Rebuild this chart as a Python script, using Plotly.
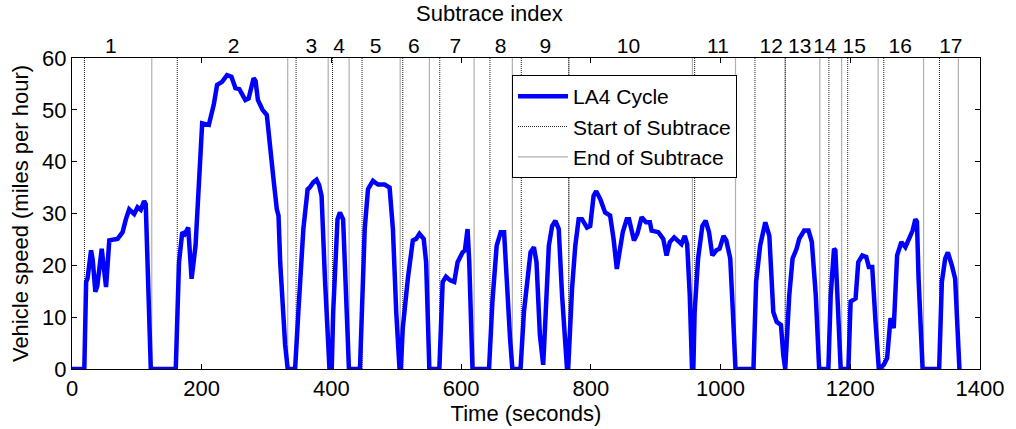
import plotly.graph_objects as go

# LA4 cycle speed trace (seconds, mph)
time_s = [0, 19, 21.8, 24, 29.4, 32, 36, 39, 45.8, 49, 52.5, 57.5, 60.6, 65, 70.3, 74, 78, 83.1, 88.2,
          95.9, 101, 106, 111.2, 113.7, 116.3, 121.5, 160, 165, 170, 173.7, 179.2, 184.4, 190.5, 195.6,
          200.7, 211, 218.6, 223.7, 231.4, 239, 245.8, 252, 258, 267.3, 272.3, 280, 283, 286.6, 293.8,
          300.4, 308, 310.7, 315.8, 318.4, 321, 328.6, 332.6, 344, 349, 356.7, 363.3, 366.4, 372, 377,
          381, 384.8, 390, 395, 397, 400.5, 402.7, 409.4, 413, 418, 425.7, 427, 444, 451.3, 456.4, 464,
          471.8, 482, 489.7, 494.8, 499.9, 505, 507, 510, 517.8, 525.5, 530.5, 535.7, 542.3, 546, 551,
          566.4, 571.5, 576.6, 583.3, 589.4, 594.5, 602.2, 605.8, 609.9, 612.5, 617.5, 643, 648.2, 654.8,
          661, 666.2, 670.2, 675.4, 679, 691.6, 696.8, 702, 707, 712.2, 716.2, 721.4, 726.5, 730, 735.2,
          740.3, 745.3, 750.5, 755.6, 763.3, 765, 771, 776, 781.2, 786.3, 794, 799, 804.2, 808.2, 814.4,
          822, 829.7, 835, 840, 844, 849.2, 855.3, 858.9, 866.5, 871.7, 878.3, 885, 891, 893.7, 904,
          911.6, 916.7, 921.8, 928.5, 934.6, 939.7, 944.8, 948.5, 952.5, 956, 958, 960, 965.3, 971.9,
          977, 982.2, 987.3, 993.4, 998.5, 1004.6, 1008.8, 1014.9, 1019, 1023, 1050.7, 1054.8, 1061,
          1069, 1075.2, 1079.3, 1081.3, 1086.5, 1093.1, 1096.7, 1099.7, 1105.9, 1111, 1117.2, 1121.2,
          1128.9, 1135.6, 1140.7, 1146.8, 1152, 1166.2, 1169.8, 1174.9, 1177, 1181, 1185.2, 1197,
          1200.5, 1208.2, 1212.3, 1218.5, 1224.6, 1228.6, 1233.8, 1238.9, 1244, 1251.6, 1256.8, 1262,
          1267, 1272.2, 1278.8, 1285, 1290, 1296.1, 1300.3, 1302.8, 1305.3, 1311.5, 1337, 1341.2,
          1346.3, 1350.4, 1356.6, 1361.7, 1368.3, 1369]
speed_mph = [0, 0, 16.8, 17.5, 22.9, 21, 14.9, 16, 23.2, 20, 15.8, 24.8, 24.8, 25, 25.1, 25.6, 26.4, 28.9,
             30.8, 29.9, 31.2, 30.7, 32.4, 31.8, 21.9, 0, 0, 20.6, 26.4, 26, 27.3, 17.4, 23.8, 36.6,
             47.4, 47.1, 51, 54.8, 55.4, 56.7, 56.4, 54.2, 54, 51.9, 52.2, 56.1, 55.6, 51.9, 50,
             49, 41, 36.6, 30.8, 29.6, 20.6, 4.7, 0, 0, 11, 27, 34.7, 35, 36, 36.5,
             35.5, 33.4, 17.4, 2, 0, 0, 11, 28.9, 30.2, 28.9, 0.8, 0, 0, 27, 34.7, 36.3,
             35.6, 35.6, 35, 27, 11, 0, 0, 7.9, 17.4, 24.8, 25.1, 26.1, 25.1, 20.6, 0,
             0, 16.8, 17.8, 17.1, 16.8, 20.6, 22.5, 22.9, 27, 20.6, 0, 0, 13, 23.8,
             26.4, 26.4, 16.1, 5.9, 0, 0, 11, 16.5, 22.5, 23.5, 20.6, 6.6, 0.8, 9.8, 23.8,
             27.6, 28.6, 27, 14.2, 0, 0, 15.5, 23.8, 28.9, 28.9, 27.3, 27.6, 33.4, 34.3, 32.8,
             30.2, 29.6, 25.1, 19.3, 22.5, 26.4, 28.9, 28.9, 24.8, 26.1, 29.3, 28.3, 28.3, 26.7, 26.4,
             25.1, 21.9, 24.5, 25.4, 24.8, 24.1, 25.7, 24.1, 14.2, 0, 0, 11, 21.3, 27.6,
             28.6, 26.4, 21.9, 22.9, 23.2, 25.7, 24.8, 21.3, 11, 0, 0, 16.8, 23.8,
             28.3, 25.7, 17.4, 11, 9.1, 8.5, 2.7, 0, 14.2, 21.3, 23.2, 25.1,
             26.7, 26.7, 24.5, 14.2, 0, 0, 14.2, 23.2, 22.9, 11, 0, 0,
             13, 13.6, 20.6, 21.9, 21.6, 19.7, 19.7, 9.1, 0, 0.8, 2.1, 9.8,
             7.9, 21.9, 24.5, 23.5, 25.1, 26.7, 28.9, 28.4, 17.4, 0, 0, 16.8,
             21.3, 22.5, 20, 17.4, 0, 0]

# Subtrace boundaries (seconds)
subtrace_start = [19.2, 162.3, 345.5, 401.6, 447.2, 510, 567, 644.4, 692.7, 766, 960, 1053,
                  1099.7, 1167, 1196, 1251.6, 1337.5]
subtrace_end = [123, 332.6, 395, 427.3, 506, 551, 620, 679, 766, 956.6, 1023, 1099.7, 1153,
                1186.6, 1243, 1313, 1366.7]

# Top-axis subtrace index labels and their positions (seconds)
index_labels = [str(i) for i in range(1, 18)]
index_pos = [60, 249, 369, 412, 468, 527, 591, 661, 730, 858, 996, 1078, 1122, 1161, 1206,
             1277, 1355]

x_ticks = [0, 200, 400, 600, 800, 1000, 1200, 1400]
y_ticks = [0, 10, 20, 30, 40, 50, 60]


def vlines(positions):
    xs, ys = [], []
    for p in positions:
        xs += [p, p, None]
        ys += [0, 60, None]
    return xs, ys


FONT = "Liberation Sans, Arial, sans-serif"
FS = 22
fig = go.Figure()

sx, sy = vlines(subtrace_start)
ex, ey = vlines(subtrace_end)

fig.add_trace(go.Scatter(x=ex, y=ey, mode="lines", name="End of Subtrace",
                         line=dict(color="#b0b0b0", width=1.2), legendrank=3,
                         hoverinfo="skip"))
fig.add_trace(go.Scatter(x=sx, y=sy, mode="lines", name="Start of Subtrace",
                         line=dict(color="#1e1e1e", width=1, dash="1px,1px"), legendrank=2,
                         hoverinfo="skip"))
fig.add_trace(go.Scatter(x=time_s, y=speed_mph, mode="lines", name="LA4 Cycle",
                         line=dict(color="#0000ff", width=4.5), legendrank=1, xaxis="x2"))

axis_common = dict(showgrid=False, zeroline=False, showline=True, linecolor="black",
                   linewidth=1, ticks="inside", ticklen=5, tickcolor="black",
                   tickfont=dict(family=FONT, size=FS, color="black"))

fig.update_layout(
    width=1016, height=429,
    margin=dict(l=72, r=31, t=58, b=58),
    plot_bgcolor="white", paper_bgcolor="white",
    font=dict(family=FONT, size=FS, color="black"),
    showlegend=True,
    xaxis=dict(range=[0, 1400], tickvals=x_ticks, mirror="ticks",
               title=dict(text="Time (seconds)", font=dict(family=FONT, size=FS), standoff=0),
               **axis_common),
    xaxis2=dict(range=[0, 1400], overlaying="x", side="top", tickvals=index_pos,
                ticktext=index_labels, ticks="", showline=False, showgrid=False, tickangle=0,
                zeroline=False, tickfont=dict(family=FONT, size=21, color="black")),
    yaxis=dict(range=[0, 60], tickvals=y_ticks, mirror="ticks",
               title=dict(text="Vehicle speed (miles per hour)", font=dict(family=FONT, size=FS),
                          standoff=7),
               **axis_common),
    legend=dict(x=0.4846, y=0.945, xanchor="left", yanchor="top", bgcolor="white",
                bordercolor="black", borderwidth=1, font=dict(family=FONT, size=21),
                itemwidth=50, tracegroupgap=0),
    annotations=[dict(text="Subtrace index", xref="paper", yref="paper", x=0.46, y=1.0,
                      yshift=45, xanchor="center", yanchor="middle", showarrow=False,
                      font=dict(family=FONT, size=FS, color="black"))],
)

fig.write_html("out.html")
